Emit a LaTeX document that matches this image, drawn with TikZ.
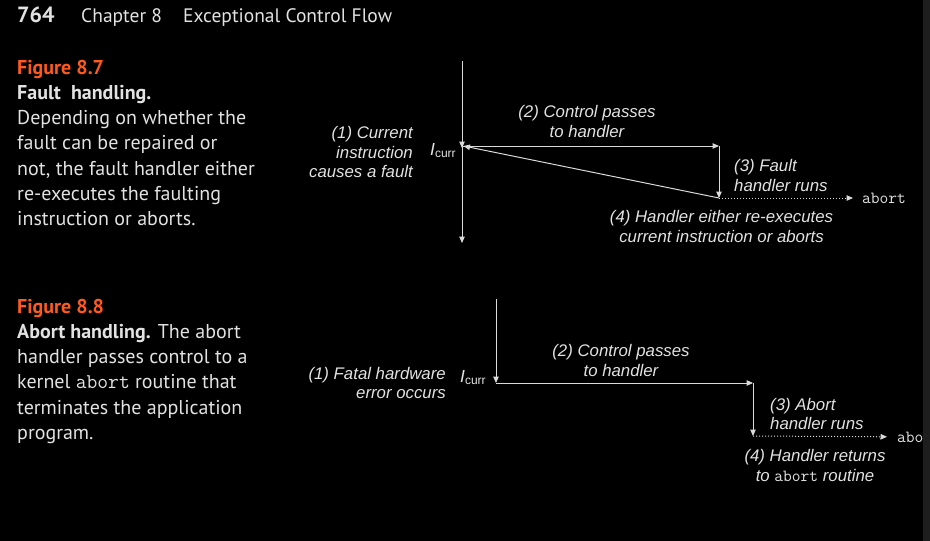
\documentclass[tikz,border=0pt]{standalone}
\usepackage{fontspec}
\setmainfont{PT Sans}
\newfontfamily\labelfont{Liberation Sans}
\usetikzlibrary{arrows.meta, positioning}
\definecolor{capred}{HTML}{FF5A1E}
\definecolor{inkgrey}{HTML}{E2E2E2}
\definecolor{linegrey}{HTML}{DADADA}
\definecolor{edgegrey}{HTML}{1E1E1E}
\newcommand{\codeword}[1]{{\ttfamily\upshape\fontsize{17}{17}\selectfont #1}}
\newcommand{\curr}{{\itshape I}\raisebox{-2.5pt}{\fontsize{12}{12}\selectfont curr}}

\begin{document}
\begin{tikzpicture}[x=1pt, y=-1pt,
		flow/.style = {draw = linegrey, line width = 1pt, -{Triangle[length=6.5pt, width=5.5pt]}},
		dots/.style = {draw = linegrey, line width = 1pt, dotted, -{Triangle[length=6.5pt, width=5.5pt]}},
		lbl/.style = {text = inkgrey, inner sep = 0pt, font = \labelfont\itshape\fontsize{16.8}{19.5}\selectfont},
		curlbl/.style = {text = inkgrey, inner sep = 0pt, anchor = base west, font = \labelfont\fontsize{17.5}{17.5}\selectfont},
		codetext/.style = {text = inkgrey, inner sep = 0pt, anchor = west, font = \ttfamily\fontsize{17}{17}\selectfont},
		captext/.style = {text = inkgrey, inner sep = 0pt, anchor = base west, font = \fontsize{20}{25}\selectfont}]
		\useasboundingbox[fill = black] (0, 0) rectangle (930, 541);
		% page header
		\node[captext, font = \bfseries\fontsize{22}{25}\selectfont] (page) at (17, 22) {764};
		\node[captext, font = \fontsize{19.5}{25}\selectfont] (chap) at (81, 22) {Chapter 8};
		\node[captext, font = \fontsize{19.5}{25}\selectfont] (title) at (183, 22) {Exceptional Control Flow};
		% caption of figure 8.7
		\node[captext, text = capred, font = \bfseries\fontsize{20}{25}\selectfont] (fig7) at (17, 74) {Figure 8.7};
		\foreach \txt [count = \i] in {{\bfseries Fault~~handling.}, Depending on whether the, fault can be repaired or, {not, the fault handler either}, re-executes the faulting, instruction or aborts.}
			\node[captext] (fcap\i) at (17, 74 + 25.3 * \i) {\txt};
		% caption of figure 8.8
		\node[captext, text = capred, font = \bfseries\fontsize{20}{25}\selectfont] (fig8) at (17, 313) {Figure 8.8};
		\foreach \txt [count = \i] in {{\bfseries Abort handling.} The abort, handler passes control to a, kernel {\ttfamily\fontsize{21}{25}\selectfont abort} routine that, terminates the application, program.}
			\node[captext] (acap\i) at (17, 313 + 25.3 * \i) {\txt};
		% figure 8.7: fault handling
		\coordinate (ftop) at (462, 61);
		\coordinate (fcurr) at (462, 146);
		\coordinate (fbot) at (462, 243);
		\coordinate (fhand) at (719, 146);
		\coordinate (fdone) at (719, 198);
		\node[codetext] (fabt) at (862, 198) {abort};
		\draw[flow] (ftop) -- ([yshift = -2pt]fcurr);
		\draw[flow] (fcurr) -- (fbot);
		\draw[flow] (fcurr) -- (fhand);
		\draw[flow] (fhand) -- (fdone);
		\draw[flow] (fdone) -- ([xshift = 1.5pt]fcurr);
		\draw[dots, shorten > = 9pt] (fdone) -- (fabt);
		\node[curlbl] (ficurr) at (430, 155) {\curr};
		\node[lbl, anchor = east, align = right] (fstep1) at (413, 152) {(1) Current\\instruction\\causes a fault};
		\node[lbl, align = center] (fstep2) at (587, 121.5) {(2) Control passes\\to handler};
		\node[lbl, anchor = west, align = left] (fstep3) at (734, 175.5) {(3) Fault\\handler runs};
		\node[lbl, align = center] (fstep4) at (721.5, 226.5) {(4) Handler either re-executes\\current instruction or aborts};
		% figure 8.8: abort handling
		\coordinate (atop) at (496, 299);
		\coordinate (acurr) at (496, 383);
		\coordinate (ahand) at (753, 383);
		\coordinate (adone) at (753, 436);
		\node[codetext] (aabt) at (897, 437) {abort};
		\draw[flow] (atop) -- (acurr);
		\draw[flow] (acurr) -- (ahand);
		\draw[flow] (ahand) -- (adone);
		\draw[dots, shorten > = 10pt] (adone) -- (aabt);
		\node[curlbl] (aicurr) at (460, 382) {\curr};
		\node[lbl, anchor = east, align = right] (astep1) at (446, 383) {(1) Fatal hardware\\error occurs};
		\node[lbl, align = center] (astep2) at (621, 360.5) {(2) Control passes\\to handler};
		\node[lbl, anchor = west, align = left] (astep3) at (770, 414) {(3) Abort\\handler runs};
		\node[lbl, align = center] (astep4) at (815, 465.5) {(4) Handler returns\\to \codeword{abort} routine};
		% dark strip at the right edge
		\fill[edgegrey] (923, 0) rectangle (930, 541);
\end{tikzpicture}
\end{document}
